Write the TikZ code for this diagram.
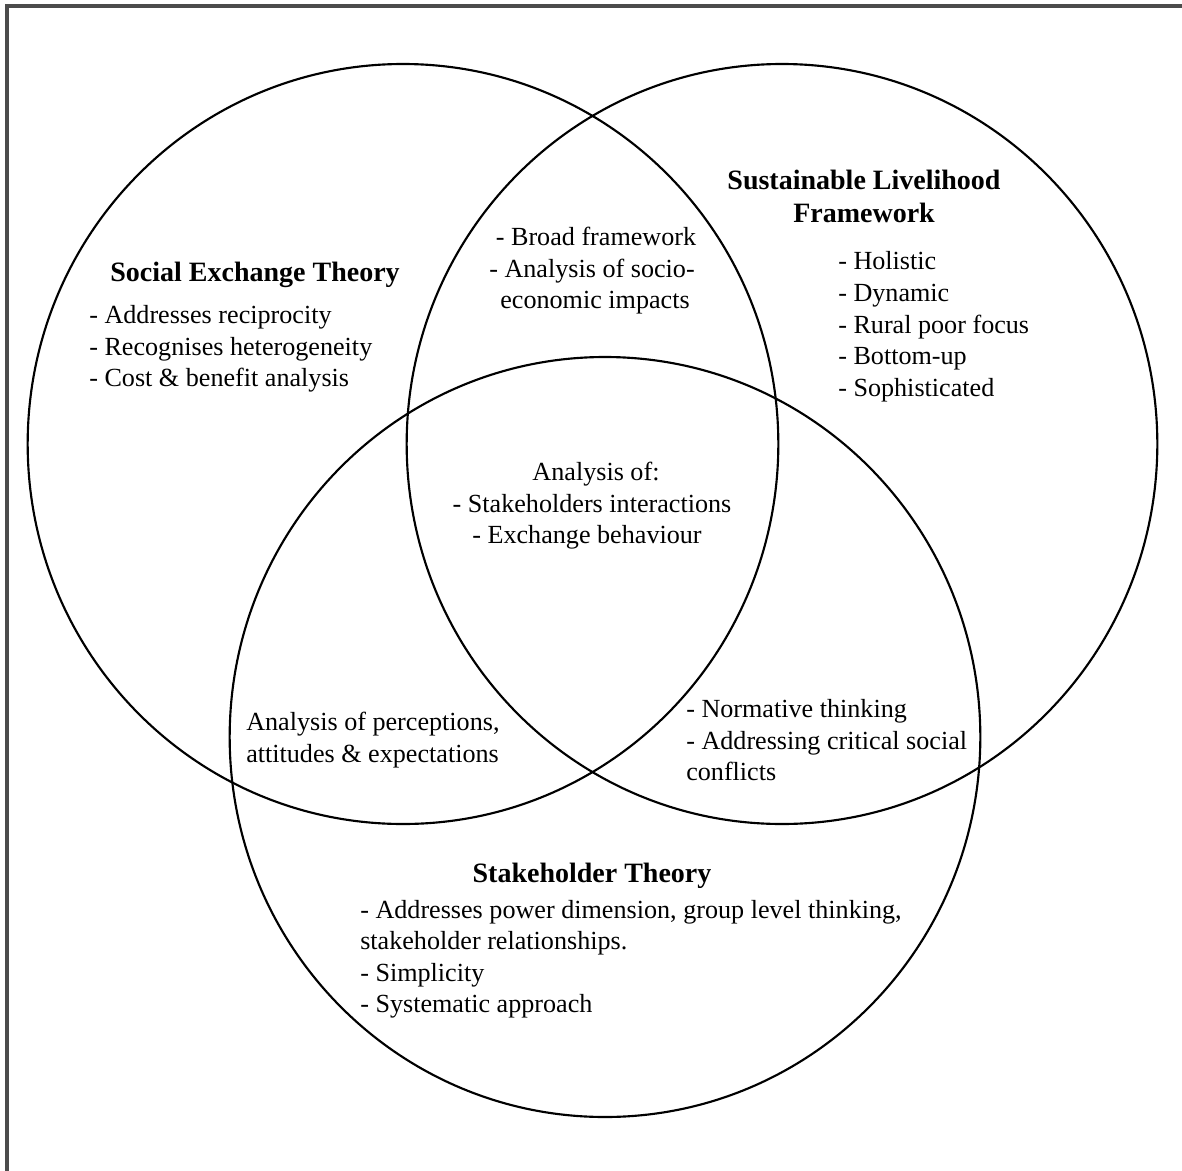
\documentclass[tikz,border=0pt]{standalone}
\usepackage{fontspec}
\setmainfont{Liberation Serif}
\begin{document}
\begin{tikzpicture}[x=0.75pt,y=-0.75pt,
  venn/.style={draw=black,line width=1.6pt},
  frame/.style={draw=black!70,line width=2.4pt},
  body/.style={inner sep=0pt,font=\fontsize{19.6}{24}\selectfont},
  head/.style={inner sep=0pt,font=\fontsize{21}{25}\selectfont\bfseries},
  lw/.style={body,anchor=base west},
  lc/.style={body,anchor=base},
  hc/.style={head,anchor=base}]
\useasboundingbox (0,0) rectangle (1182,1171);
% outer frame (right and lower sides run past the page)
\begin{scope}
  \clip (0,0) rectangle (1182,1171);
  \draw[frame] (7,6) rectangle (1200,1190);
\end{scope}

% the three sets
\coordinate (cSET) at (403,444);
\coordinate (cSLF) at (782,444);
\coordinate (cST)  at (605,737);
\draw[venn] (cSET) ellipse[x radius=281.5pt,y radius=285pt];
\draw[venn] (cSLF) ellipse[x radius=281.5pt,y radius=285pt];
\draw[venn] (cST)  ellipse[x radius=281.5pt,y radius=285pt];

% Social Exchange Theory
\node[hc] (setT) at (255,281) {Social Exchange Theory};
\node[lw] (set1) at (89,323) {- Addresses reciprocity};
\node[lw] (set2) at (89,355) {- Recognises heterogeneity};
\node[lw] (set3) at (89,386) {- Cost \& benefit analysis};

% Sustainable Livelihood Framework
\node[hc] (slfT1) at (864,189) {Sustainable Livelihood};
\node[hc] (slfT2) at (864,222) {Framework};
\node[lw] (slf1) at (838,269) {- Holistic};
\node[lw] (slf2) at (838,301) {- Dynamic};
\node[lw] (slf3) at (838,333) {- Rural poor focus};
\node[lw] (slf4) at (838,364) {- Bottom-up};
\node[lw] (slf5) at (838,396) {- Sophisticated};

% SET and SLF
\node[lc] (ab1) at (596,245) {- Broad framework};
\node[lc] (ab2) at (592,277) {- Analysis of socio-};
\node[lc] (ab3) at (595,308) {economic impacts};

% all three
\node[lc] (abc1) at (596,480) {Analysis of:};
\node[lc] (abc2) at (592,512) {- Stakeholders interactions};
\node[lc] (abc3) at (587,543) {- Exchange behaviour};

% SET and ST
\node[lw] (ac1) at (246,730) {Analysis of perceptions,};
\node[lw] (ac2) at (246,762) {attitudes \& expectations};

% SLF and ST
\node[lw] (bc1) at (686,717) {- Normative thinking};
\node[lw] (bc2) at (686,749) {- Addressing critical social};
\node[lw] (bc3) at (686,780) {conflicts};

% Stakeholder Theory
\node[hc] (stT) at (592,882) {Stakeholder Theory};
\node[lw] (st1) at (360,918) {- Addresses power dimension, group level thinking,};
\node[lw] (st2) at (360,949) {stakeholder relationships.};
\node[lw] (st3) at (360,981) {- Simplicity};
\node[lw] (st4) at (360,1012) {- Systematic approach};
\end{tikzpicture}
\end{document}
